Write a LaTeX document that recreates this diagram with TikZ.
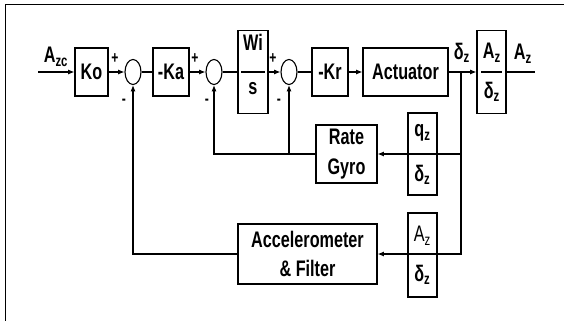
\documentclass[tikz,border=0pt]{standalone}
\usepackage{fontspec}
\setmainfont{Liberation Sans}[FakeStretch=0.72]
\usetikzlibrary{arrows.meta,shapes.geometric}

\begin{document}
\begin{tikzpicture}[x=0.025cm,y=-0.025cm,>={Latex[length=4.5pt,width=3.6pt]},line width=0.8pt,
blk/.style={draw,rectangle,inner sep=0pt,minimum height=1.2cm,font=\bfseries\fontsize{16}{21}\selectfont,align=center},
fbx/.style={draw,rectangle,inner sep=0pt,minimum width=0.725cm},
sumn/.style={draw,ellipse,minimum width=0.4cm,minimum height=0.625cm,inner sep=0pt},
lab/.style={font=\bfseries\fontsize{16}{21}\selectfont,inner sep=0pt},
sgn/.style={font=\bfseries\fontsize{12}{12}\selectfont,inner sep=0pt}]
\useasboundingbox (0,0) rectangle (564,321);
\draw[line width=0.6pt] (5,321) -- (5,4) -- (564,4);
% forward path
\coordinate (in) at (38,72);
\node[blk,minimum width=0.825cm] (ko) at (91.5,72) {Ko};
\node[sumn] (s1) at (133,72) {};
\node[blk,minimum width=0.9cm] (ka) at (171,72) {-Ka};
\node[sumn] (s2) at (214,72) {};
\node[fbx,minimum width=0.75cm,minimum height=2.075cm] (wis) at (253,72) {};
\node[sumn] (s3) at (289,72) {};
\node[blk,minimum width=0.9cm] (kr) at (330,72) {-Kr};
\node[blk,minimum width=2.125cm] (act) at (405.5,72) {Actuator};
\node[fbx,minimum height=2.075cm] (azd) at (491.5,72) {};
\coordinate (out) at (535,72);
\coordinate (br) at (461,72);
% feedback blocks
\node[blk,minimum width=1.525cm,minimum height=1.45cm] (rate) at (346.5,154) {Rate\\Gyro};
\node[fbx,minimum height=2.05cm] (qz) at (422.5,154) {};
\node[blk,minimum width=3.475cm,minimum height=1.5cm] (acc) at (307.5,254) {Accelerometer\\\& Filter};
\node[fbx,minimum height=2.1cm] (azl) at (422.5,255) {};
% fraction texts
\node[lab] (wit) at (253,42) {Wi};
\node[lab] (wib) at (253,89) {s};
\draw ([xshift=0.1cm]wis.west) -- ([xshift=-0.1cm]wis.east);
\node[lab] (azdt) at (492,53) {A\textsubscript{z}};
\node[lab] (azdb) at (492,92) {δ\textsubscript{z}};
\draw ([xshift=0.12cm]azd.west) -- ([xshift=-0.12cm]azd.east);
\node[lab] (qzt) at (422.5,133) {q\textsubscript{z}};
\node[lab] (qzb) at (422.5,175) {δ\textsubscript{z}};
\node[lab,font=\fontsize{16}{21}\selectfont] (azlt) at (422.5,236) {A\textsubscript{z}};
\node[lab] (azlb) at (422.5,275) {δ\textsubscript{z}};
% labels and signs
\node[lab] (azc) at (56,57) {A\textsubscript{zc}};
\node[lab] (dz) at (462,53) {δ\textsubscript{z}};
\node[lab] (azo) at (523,54) {A\textsubscript{z}};
\node[sgn] (p1) at (115,59) {+};
\node[sgn] (p2) at (195,59) {+};
\node[sgn] (p3) at (273,59) {+};
\node[sgn] (m1) at (124,102) {-};
\node[sgn] (m2) at (207,102) {-};
\node[sgn] (m3) at (279,102) {-};
% connectors
\draw[->] (in) -- (ko);
\draw[->] (ko) -- (s1);
\draw (s1) -- (ka);
\draw[->] (ka) -- (s2);
\draw (s2) -- (wis);
\draw[->] (wis) -- (s3);
\draw (s3) -- (kr);
\draw[->] (kr) -- (act);
\draw[->] (act) -- (azd);
\draw (azd) -- (out);
\draw[->] (br) |- (rate.east);
\draw[->] (br) |- (acc.east);
\draw[->] (rate.west) -| (s2.south);
\draw[->] (s3.south |- rate.west) -- (s3.south);
\draw[->] (acc.west) -| (s1.south);
\end{tikzpicture}
\end{document}
